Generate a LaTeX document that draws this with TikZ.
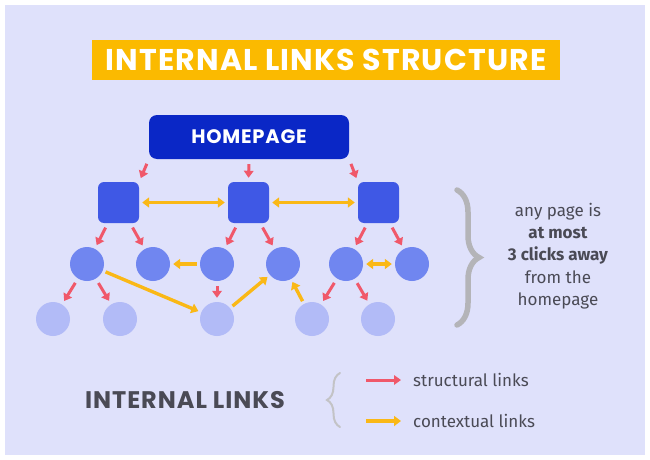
\documentclass[tikz,border=0pt]{standalone}
\usepackage{fontspec}
\setmainfont{Fira Sans}
\newfontfamily\headfont{Poppins}[LetterSpace=4]
\usetikzlibrary{arrows.meta, decorations.pathreplacing}

\definecolor{bgLavender}{HTML}{DFE1FB}
\definecolor{titleYellow}{HTML}{FBBA00}
\definecolor{homeBlue}{HTML}{0A27C6}
\definecolor{squareBlue}{HTML}{3F58E5}
\definecolor{midBlue}{HTML}{7086F0}
\definecolor{leafBlue}{HTML}{B2BBF7}
\definecolor{linkRed}{HTML}{F0586A}
\definecolor{linkYellow}{HTML}{FAB816}
\definecolor{textGray}{HTML}{4A4A55}
\definecolor{braceGray}{HTML}{B4B4B8}

\begin{document}
\begin{tikzpicture}[x=1pt, y=-1pt,
    titleStyle/.style={fill=titleYellow, text=white, minimum width=468pt, minimum height=40pt, inner sep=0pt, font=\headfont\bfseries\fontsize{30}{32}\selectfont},
    homeStyle/.style={fill=homeBlue, rounded corners=8pt, text=white, minimum width=200pt, minimum height=44pt, inner sep=0pt, font=\headfont\bfseries\fontsize{19.5}{21}\selectfont},
    squareStyle/.style={fill=squareBlue, rounded corners=6pt, minimum size=41pt, inner sep=0pt},
    midStyle/.style={circle, fill=midBlue, minimum size=34pt, inner sep=0pt},
    leafStyle/.style={circle, fill=leafBlue, minimum size=34pt, inner sep=0pt},
    structLink/.style={draw=linkRed, line width=3pt, -{Triangle[length=7pt, width=9.5pt]}, shorten <=5pt, shorten >=4pt},
    contextLink/.style={draw=linkYellow, line width=3.4pt, -{Triangle[length=7pt, width=10pt]}, shorten <=3pt, shorten >=3pt},
    contextBoth/.style={contextLink, {Triangle[length=7pt, width=10pt]}-{Triangle[length=7pt, width=10pt]}},
    noteStyle/.style={align=center, text=textGray, inner sep=0pt, font=\fontsize{17}{22.3}\selectfont},
    legendText/.style={anchor=west, text=textGray, inner sep=0pt, font=\fontsize{17}{20}\selectfont},
    ]
    \useasboundingbox (0,0) rectangle (650,460);
    \fill[white] (0,0) rectangle (650,460);
    \fill[bgLavender] (5,5) rectangle (645,455);

    \node[titleStyle] (title) at (326,60) {INTERNAL LINKS STRUCTURE};

    \node[homeStyle] (root) at (249,137) {HOMEPAGE};
    \node[squareStyle] (11) at (118.5,202.5) {};
    \node[squareStyle] (12) at (248.5,202.5) {};
    \node[squareStyle] (13) at (378.5,202.5) {};
    \node[midStyle] (21) at (87,264) {};
    \node[midStyle] (22) at (153,264) {};
    \node[midStyle] (23) at (217,264) {};
    \node[midStyle] (24) at (283,264) {};
    \node[midStyle] (25) at (346,264) {};
    \node[midStyle] (26) at (412,264) {};
    \node[leafStyle] (31) at (53,319) {};
    \node[leafStyle] (32) at (120,319) {};
    \node[leafStyle] (33) at (217,319) {};
    \node[leafStyle] (34) at (312,319) {};
    \node[leafStyle] (35) at (378,319) {};

    \draw[structLink] (root.south west) -- (11.north east);
    \draw[structLink] (root.south) -- (12.north);
    \draw[structLink] (root.south east) -- (13.north west);
    \draw[structLink] (11) -- (21);
    \draw[structLink] (11) -- (22);
    \draw[structLink] (12) -- (23);
    \draw[structLink] (12) -- (24);
    \draw[structLink] (13) -- (25);
    \draw[structLink] (13) -- (26);
    \draw[structLink] (21) -- (31);
    \draw[structLink] (21) -- (32);
    \draw[structLink] (23) -- (33);
    \draw[structLink] (25) -- (34);
    \draw[structLink] (25) -- (35);

    \draw[contextBoth] (11) -- (12);
    \draw[contextBoth] (12) -- (13);
    \draw[contextBoth] (25) -- (26);
    \draw[contextLink] (23) -- (22);
    \draw[contextLink] (21) -- (33);
    \draw[contextLink] (33) -- (24);
    \draw[contextLink] (34) -- (24);

    \draw[braceGray, line width=5.5pt, line cap=round, decorate, decoration={brace, amplitude=22pt}] (457,190) -- (457,325);
    \node[noteStyle] (note) at (558,256) {any page is\\\textbf{at most}\\\textbf{3 clicks away}\\from the\\homepage};

    \node[text=textGray, inner sep=0pt, font=\headfont\bfseries\fontsize{24}{26}\selectfont] (links) at (185,400) {INTERNAL LINKS};
    \draw[braceGray!80, line width=2pt, line cap=round, decorate, decoration={brace, amplitude=13pt}] (340,427) -- (340,373);

    \coordinate (s1) at (366,380);
    \coordinate (s2) at (401,380);
    \coordinate (c1) at (366,421);
    \coordinate (c2) at (401,421);
    \draw[structLink, shorten <=0pt, shorten >=0pt] (s1) -- (s2);
    \draw[contextLink, shorten <=0pt, shorten >=0pt] (c1) -- (c2);
    \node[legendText] (structural) at (413,380) {structural links};
    \node[legendText] (contextual) at (413,421) {contextual links};
\end{tikzpicture}
\end{document}
